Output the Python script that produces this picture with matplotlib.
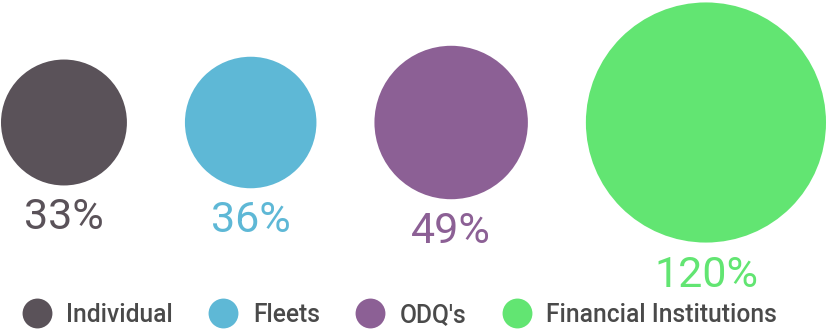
import numpy as np
import matplotlib
matplotlib.use("Agg")
import matplotlib.pyplot as plt
from matplotlib.patches import Circle
from matplotlib.lines import Line2D

# Share of each segment (circle area proportional to value)
categories = ["Individual", "Fleets", "ODQ's", "Financial Institutions"]
values = [33, 36, 49, 120]
labels = ["33%", "36%", "49%", "120%"]
colors = ["#5a5259", "#5eb8d6", "#8c6095", "#62e572"]

plt.rcParams['font.family'] = ['Roboto', 'DejaVu Sans']

W, H = 827, 330
fig = plt.figure(figsize=(W / 100, H / 100), dpi=100)
ax = fig.add_axes([0, 0, 1, 1])
ax.set_xlim(0, W)
ax.set_ylim(H, 0)
ax.set_aspect('equal')
ax.axis('off')

scale = 10.96   # px of radius per sqrt(value)
gap = 58        # space between circles
cy = 122.5

x = 1.0
for val, lab, col in zip(values, labels, colors):
    r = scale * np.sqrt(val)
    cx = x + r
    ax.add_patch(Circle((cx, cy), r, color=col, lw=0))
    ax.text(cx, cy + r + 44, lab, color=col, fontsize=31,
            ha='center', va='baseline')
    x = cx + r + gap

# Legend
handles = [Line2D([], [], marker='o', ls='none', markersize=21.5,
                  markerfacecolor=c, markeredgewidth=0) for c in colors]
leg = fig.legend(handles, categories, ncol=4, frameon=False,
                 loc='center left', bbox_to_anchor=(22 / W, 1 - 315 / H),
                 borderaxespad=0, borderpad=0,
                 handlelength=1.2, handletextpad=0.6, columnspacing=1.45,
                 prop={'weight': 'medium', 'size': 17.7})
for t in leg.get_texts():
    t.set_color('#4a4a4a')

plt.savefig('out.png', dpi=100)
plt.close()
